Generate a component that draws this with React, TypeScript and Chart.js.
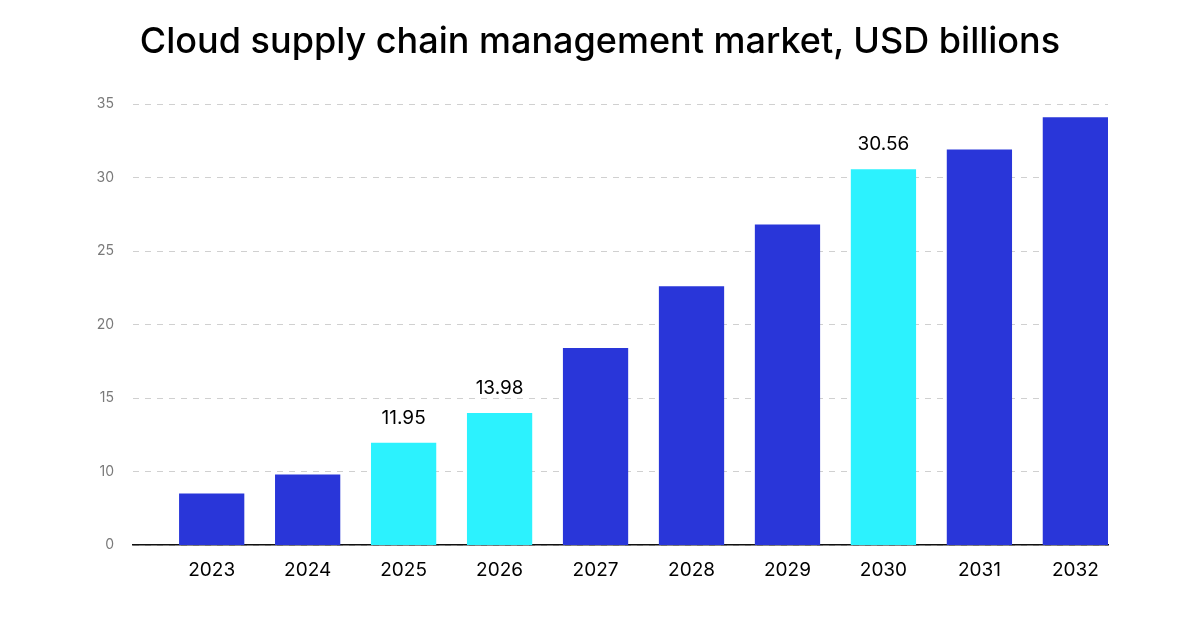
import { useEffect, useRef } from "react";
import { Chart, registerables } from "chart.js";

Chart.register(...registerables);

const title = "Cloud supply chain management market, USD billions";
const years = ["2023", "2024", "2025", "2026", "2027", "2028", "2029", "2030", "2031", "2032"];
const marketSize = [8.5, 9.8, 11.95, 13.98, 18.4, 22.6, 26.8, 30.56, 31.9, 34.1];
// years whose bars are cyan and carry a value label
const highlighted = ["2025", "2026", "2030"];
const yTickValues = [5, 10, 15, 20, 25, 30, 35];
const yTickLabels = ["0", "10", "15", "20", "25", "30", "35"];

const BLUE = "#2936d9";
const CYAN = "#2cf2fe";

const valueLabels = {
  id: "valueLabels",
  afterDatasetsDraw(chart: Chart) {
    const ctx = chart.ctx;
    const meta = chart.getDatasetMeta(0);
    ctx.save();
    ctx.fillStyle = "#000";
    ctx.font = "19px Inter";
    ctx.textAlign = "center";
    ctx.textBaseline = "middle";
    meta.data.forEach((bar: any, i: number) => {
      if (!highlighted.includes(years[i])) return;
      ctx.fillText(String(marketSize[i]), bar.x, bar.y - 25);
    });
    ctx.restore();
  },
};

const App = () => {
  const canvasRef = useRef<HTMLCanvasElement | null>(null);

  useEffect(() => {
    document.body.style.margin = "0";
    if (!canvasRef.current) return;

    const chart = new Chart(canvasRef.current, {
      type: "bar",
      data: {
        datasets: [
          {
            data: marketSize.map((v, i) => ({ x: i, y: v })),
            backgroundColor: years.map((y) => (highlighted.includes(y) ? CYAN : BLUE)),
            barPercentage: 0.68,
            categoryPercentage: 1,
          },
        ],
      },
      options: {
        animation: false,
        responsive: false,
        layout: { padding: { left: 0, right: 92, top: 104, bottom: 0 } },
        plugins: {
          legend: { display: false },
          tooltip: { enabled: false },
        },
        scales: {
          x: {
            type: "linear",
            offset: false,
            min: -0.82,
            max: 9.34,
            grid: { display: false },
            border: { color: "#111", width: 1.5 },
            afterBuildTicks: (scale: any) => {
              scale.ticks = years.map((_, i) => ({ value: i }));
            },
            afterFit: (scale: any) => {
              scale.height = 85;
            },
            ticks: {
              color: "#000",
              font: { family: "Inter", size: 19 },
              padding: 6,
              maxRotation: 0,
              callback: (v: any) => years[v] ?? "",
            },
          },
          y: {
            min: 5,
            max: 35,
            afterBuildTicks: (scale: any) => {
              scale.ticks = yTickValues.map((v) => ({ value: v }));
            },
            afterFit: (scale: any) => {
              scale.width = 133;
            },
            border: { display: false, dash: [6, 6] },
            grid: { color: "#d0d0d0", drawTicks: false },
            ticks: {
              color: "#7a7a7a",
              font: { family: "Inter", size: 14 },
              padding: 19,
              callback: (v: any) => yTickLabels[yTickValues.indexOf(v)] ?? "",
            },
          },
        },
      },
      plugins: [valueLabels],
    });

    return () => chart.destroy();
  }, []);

  return (
    <div style={{ position: "relative", width: 1200, height: 630 }}>
      <div
        style={{
          position: "absolute",
          top: 16,
          left: 0,
          width: 1200,
          textAlign: "center",
          fontFamily: "Inter",
          fontWeight: 500,
          fontSize: 36,
          lineHeight: "48px",
          color: "#000",
        }}
      >
        {title}
      </div>
      <canvas ref={canvasRef} width={1200} height={630} />
    </div>
  );
};

export default App;
